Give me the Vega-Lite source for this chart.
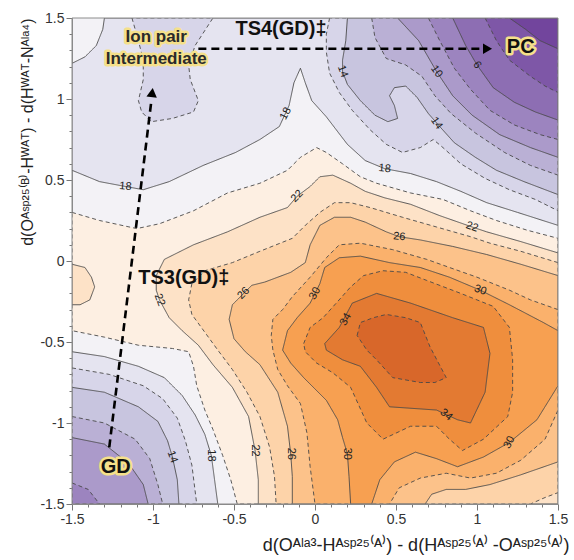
{
"$schema":"https://vega.github.io/schema/vega-lite/v6.json",
"width":486,"height":486,
"autosize":{"type":"none"},
"padding":{"left":72,"top":18,"right":16,"bottom":56},
"background":"#ffffff",
"config":{"view":{"stroke":null,"fill":"#f3f2f6"},"font":"Liberation Sans"},
"datasets":{
"regions":[
{"p":1,"lev":20,"band":"20-22"},{"p":2,"lev":22,"band":"22-24"},{"p":3,"lev":22,"band":"22-24"},{"p":4,"lev":24,"band":"24-26"},{"p":5,"lev":26,"band":"26-28"},{"p":6,"lev":28,"band":"28-30"},{"p":7,"lev":30,"band":"30-32"},{"p":8,"lev":32,"band":"32-34"},{"p":9,"lev":34,"band":"34-36"},{"p":10,"lev":36,"band":">36"},
{"p":11,"lev":18,"band":"16-18"},{"p":12,"lev":18,"band":"16-18"},{"p":13,"lev":16,"band":"14-16"},{"p":14,"lev":16,"band":"14-16"},{"p":15,"lev":16,"band":"14-16"},{"p":16,"lev":14,"band":"12-14"},{"p":17,"lev":14,"band":"12-14"},{"p":18,"lev":12,"band":"10-12"},{"p":19,"lev":12,"band":"10-12"},{"p":20,"lev":10,"band":"8-10"},{"p":21,"lev":10,"band":"8-10"},{"p":22,"lev":8,"band":"6-8"},{"p":23,"lev":8,"band":"6-8"},{"p":24,"lev":6,"band":"4-6"},{"p":25,"lev":4,"band":"2-4"},{"p":26,"lev":2,"band":"<2"}
],
"contours":[
{"p":1,"x":-1.5,"y":0.30},{"p":1,"x":-1.33,"y":0.25},{"p":1,"x":-1.10,"y":0.20},{"p":1,"x":-0.96,"y":0.23},{"p":1,"x":-0.75,"y":0.31},{"p":1,"x":-0.54,"y":0.42},{"p":1,"x":-0.34,"y":0.48},{"p":1,"x":-0.17,"y":0.56},{"p":1,"x":-0.09,"y":0.64},{"p":1,"x":0.01,"y":0.70},{"p":1,"x":0.07,"y":0.67},{"p":1,"x":0.17,"y":0.60},{"p":1,"x":0.28,"y":0.52},{"p":1,"x":0.38,"y":0.48},{"p":1,"x":0.59,"y":0.42},{"p":1,"x":0.79,"y":0.38},{"p":1,"x":0.96,"y":0.31},{"p":1,"x":1.12,"y":0.25},{"p":1,"x":1.31,"y":0.19},{"p":1,"x":1.5,"y":0.14},{"p":1,"x":1.5,"y":-1.5},{"p":1,"x":-0.48,"y":-1.5},{"p":1,"x":-0.52,"y":-1.35},{"p":1,"x":-0.57,"y":-1.20},{"p":1,"x":-0.63,"y":-1.04},{"p":1,"x":-0.68,"y":-0.92},{"p":1,"x":-0.73,"y":-0.77},{"p":1,"x":-0.75,"y":-0.65},{"p":1,"x":-0.78,"y":-0.56},{"p":1,"x":-0.88,"y":-0.54},{"p":1,"x":-1.09,"y":-0.52},{"p":1,"x":-1.30,"y":-0.47},{"p":1,"x":-1.5,"y":-0.43},
{"p":2,"x":1.5,"y":0.05},{"p":2,"x":1.27,"y":0.12},{"p":2,"x":1.06,"y":0.18},{"p":2,"x":0.97,"y":0.21},{"p":2,"x":0.77,"y":0.28},{"p":2,"x":0.59,"y":0.35},{"p":2,"x":0.43,"y":0.39},{"p":2,"x":0.31,"y":0.43},{"p":2,"x":0.22,"y":0.48},{"p":2,"x":0.11,"y":0.53},{"p":2,"x":0.03,"y":0.52},{"p":2,"x":-0.03,"y":0.46},{"p":2,"x":-0.11,"y":0.40},{"p":2,"x":-0.17,"y":0.33},{"p":2,"x":-0.34,"y":0.27},{"p":2,"x":-0.54,"y":0.18},{"p":2,"x":-0.75,"y":0.10},{"p":2,"x":-0.93,"y":0.01},{"p":2,"x":-0.98,"y":-0.09},{"p":2,"x":-0.98,"y":-0.18},{"p":2,"x":-0.96,"y":-0.24},{"p":2,"x":-0.90,"y":-0.35},{"p":2,"x":-0.82,"y":-0.43},{"p":2,"x":-0.72,"y":-0.52},{"p":2,"x":-0.63,"y":-0.64},{"p":2,"x":-0.51,"y":-0.78},{"p":2,"x":-0.41,"y":-0.96},{"p":2,"x":-0.37,"y":-1.17},{"p":2,"x":-0.35,"y":-1.35},{"p":2,"x":-0.35,"y":-1.5},{"p":2,"x":1.5,"y":-1.5},
{"p":3,"x":-1.5,"y":-0.02},{"p":3,"x":-1.42,"y":-0.04},{"p":3,"x":-1.38,"y":-0.10},{"p":3,"x":-1.36,"y":-0.16},{"p":3,"x":-1.39,"y":-0.24},{"p":3,"x":-1.45,"y":-0.27},{"p":3,"x":-1.5,"y":-0.27},
{"p":4,"x":1.5,"y":-0.01},{"p":4,"x":1.27,"y":0.06},{"p":4,"x":1.08,"y":0.11},{"p":4,"x":0.96,"y":0.15},{"p":4,"x":0.75,"y":0.21},{"p":4,"x":0.54,"y":0.27},{"p":4,"x":0.34,"y":0.33},{"p":4,"x":0.22,"y":0.36},{"p":4,"x":0.12,"y":0.36},{"p":4,"x":0.03,"y":0.30},{"p":4,"x":-0.06,"y":0.22},{"p":4,"x":-0.14,"y":0.14},{"p":4,"x":-0.34,"y":0.06},{"p":4,"x":-0.51,"y":-0.01},{"p":4,"x":-0.68,"y":-0.06},{"p":4,"x":-0.76,"y":-0.14},{"p":4,"x":-0.78,"y":-0.24},{"p":4,"x":-0.76,"y":-0.33},{"p":4,"x":-0.68,"y":-0.44},{"p":4,"x":-0.60,"y":-0.55},{"p":4,"x":-0.51,"y":-0.67},{"p":4,"x":-0.42,"y":-0.81},{"p":4,"x":-0.34,"y":-0.96},{"p":4,"x":-0.28,"y":-1.15},{"p":4,"x":-0.25,"y":-1.33},{"p":4,"x":-0.24,"y":-1.5},{"p":4,"x":1.33,"y":-1.5},{"p":4,"x":1.42,"y":-1.46},{"p":4,"x":1.5,"y":-1.43},
{"p":5,"x":1.5,"y":-0.09},{"p":5,"x":1.27,"y":-0.02},{"p":5,"x":1.06,"y":0.04},{"p":5,"x":0.85,"y":0.09},{"p":5,"x":0.65,"y":0.13},{"p":5,"x":0.52,"y":0.15},{"p":5,"x":0.44,"y":0.18},{"p":5,"x":0.31,"y":0.24},{"p":5,"x":0.22,"y":0.27},{"p":5,"x":0.12,"y":0.27},{"p":5,"x":0.03,"y":0.22},{"p":5,"x":-0.03,"y":0.10},{"p":5,"x":-0.06,"y":-0.01},{"p":5,"x":-0.15,"y":-0.07},{"p":5,"x":-0.31,"y":-0.13},{"p":5,"x":-0.39,"y":-0.15},{"p":5,"x":-0.44,"y":-0.20},{"p":5,"x":-0.51,"y":-0.27},{"p":5,"x":-0.53,"y":-0.36},{"p":5,"x":-0.50,"y":-0.48},{"p":5,"x":-0.43,"y":-0.56},{"p":5,"x":-0.34,"y":-0.64},{"p":5,"x":-0.23,"y":-0.81},{"p":5,"x":-0.17,"y":-1.02},{"p":5,"x":-0.15,"y":-1.19},{"p":5,"x":-0.14,"y":-1.33},{"p":5,"x":-0.14,"y":-1.5},{"p":5,"x":0.68,"y":-1.5},{"p":5,"x":0.72,"y":-1.44},{"p":5,"x":0.81,"y":-1.41},{"p":5,"x":0.93,"y":-1.41},{"p":5,"x":1.08,"y":-1.38},{"p":5,"x":1.27,"y":-1.32},{"p":5,"x":1.5,"y":-1.24},
{"p":6,"x":1.5,"y":-0.30},{"p":6,"x":1.33,"y":-0.24},{"p":6,"x":1.20,"y":-0.18},{"p":6,"x":1.00,"y":-0.10},{"p":6,"x":0.83,"y":-0.04},{"p":6,"x":0.69,"y":0.01},{"p":6,"x":0.48,"y":0.07},{"p":6,"x":0.28,"y":0.11},{"p":6,"x":0.15,"y":0.10},{"p":6,"x":0.07,"y":0.02},{"p":6,"x":-0.03,"y":-0.10},{"p":6,"x":-0.14,"y":-0.22},{"p":6,"x":-0.20,"y":-0.30},{"p":6,"x":-0.26,"y":-0.36},{"p":6,"x":-0.27,"y":-0.46},{"p":6,"x":-0.26,"y":-0.55},{"p":6,"x":-0.23,"y":-0.67},{"p":6,"x":-0.17,"y":-0.77},{"p":6,"x":-0.09,"y":-0.88},{"p":6,"x":-0.05,"y":-1.06},{"p":6,"x":-0.03,"y":-1.27},{"p":6,"x":0.00,"y":-1.5},{"p":6,"x":0.46,"y":-1.5},{"p":6,"x":0.52,"y":-1.40},{"p":6,"x":0.65,"y":-1.34},{"p":6,"x":0.81,"y":-1.31},{"p":6,"x":0.96,"y":-1.34},{"p":6,"x":1.12,"y":-1.31},{"p":6,"x":1.27,"y":-1.23},{"p":6,"x":1.42,"y":-1.10},{"p":6,"x":1.5,"y":-0.92},
{"p":7,"x":1.5,"y":-0.43},{"p":7,"x":1.41,"y":-0.38},{"p":7,"x":1.20,"y":-0.27},{"p":7,"x":1.02,"y":-0.18},{"p":7,"x":0.83,"y":-0.10},{"p":7,"x":0.65,"y":-0.04},{"p":7,"x":0.46,"y":-0.01},{"p":7,"x":0.28,"y":0.03},{"p":7,"x":0.15,"y":0.02},{"p":7,"x":0.06,"y":-0.04},{"p":7,"x":0.03,"y":-0.14},{"p":7,"x":-0.03,"y":-0.26},{"p":7,"x":-0.11,"y":-0.35},{"p":7,"x":-0.17,"y":-0.43},{"p":7,"x":-0.20,"y":-0.55},{"p":7,"x":-0.15,"y":-0.63},{"p":7,"x":-0.07,"y":-0.72},{"p":7,"x":0.01,"y":-0.80},{"p":7,"x":0.07,"y":-0.86},{"p":7,"x":0.14,"y":-0.98},{"p":7,"x":0.17,"y":-1.09},{"p":7,"x":0.20,"y":-1.19},{"p":7,"x":0.21,"y":-1.33},{"p":7,"x":0.22,"y":-1.5},{"p":7,"x":0.35,"y":-1.5},{"p":7,"x":0.40,"y":-1.35},{"p":7,"x":0.49,"y":-1.24},{"p":7,"x":0.62,"y":-1.18},{"p":7,"x":0.75,"y":-1.22},{"p":7,"x":0.88,"y":-1.27},{"p":7,"x":1.04,"y":-1.21},{"p":7,"x":1.20,"y":-1.12},{"p":7,"x":1.37,"y":-0.98},{"p":7,"x":1.5,"y":-0.77},
{"p":8,"x":-0.07,"y":-0.51},{"p":8,"x":-0.03,"y":-0.41},{"p":8,"x":0.05,"y":-0.35},{"p":8,"x":0.14,"y":-0.25},{"p":8,"x":0.22,"y":-0.16},{"p":8,"x":0.30,"y":-0.09},{"p":8,"x":0.42,"y":-0.06},{"p":8,"x":0.56,"y":-0.07},{"p":8,"x":0.69,"y":-0.12},{"p":8,"x":0.90,"y":-0.20},{"p":8,"x":1.10,"y":-0.28},{"p":8,"x":1.20,"y":-0.41},{"p":8,"x":1.22,"y":-0.61},{"p":8,"x":1.22,"y":-0.81},{"p":8,"x":1.19,"y":-0.96},{"p":8,"x":1.04,"y":-1.10},{"p":8,"x":0.91,"y":-1.17},{"p":8,"x":0.83,"y":-1.10},{"p":8,"x":0.75,"y":-1.02},{"p":8,"x":0.59,"y":-1.02},{"p":8,"x":0.42,"y":-1.10},{"p":8,"x":0.32,"y":-1.00},{"p":8,"x":0.22,"y":-0.78},{"p":8,"x":0.11,"y":-0.69},{"p":8,"x":0.01,"y":-0.63},{"p":8,"x":-0.06,"y":-0.56},
{"p":9,"x":0.06,"y":-0.51},{"p":9,"x":0.15,"y":-0.41},{"p":9,"x":0.23,"y":-0.26},{"p":9,"x":0.38,"y":-0.20},{"p":9,"x":0.59,"y":-0.26},{"p":9,"x":0.85,"y":-0.35},{"p":9,"x":1.04,"y":-0.41},{"p":9,"x":1.08,"y":-0.57},{"p":9,"x":1.05,"y":-0.81},{"p":9,"x":0.96,"y":-1.00},{"p":9,"x":0.88,"y":-0.98},{"p":9,"x":0.75,"y":-0.92},{"p":9,"x":0.46,"y":-0.90},{"p":9,"x":0.38,"y":-0.78},{"p":9,"x":0.28,"y":-0.65},{"p":9,"x":0.17,"y":-0.61},{"p":9,"x":0.07,"y":-0.55},
{"p":10,"x":0.26,"y":-0.46},{"p":10,"x":0.28,"y":-0.38},{"p":10,"x":0.36,"y":-0.35},{"p":10,"x":0.44,"y":-0.33},{"p":10,"x":0.56,"y":-0.35},{"p":10,"x":0.65,"y":-0.38},{"p":10,"x":0.71,"y":-0.53},{"p":10,"x":0.81,"y":-0.72},{"p":10,"x":0.74,"y":-0.75},{"p":10,"x":0.65,"y":-0.75},{"p":10,"x":0.48,"y":-0.72},{"p":10,"x":0.38,"y":-0.61},{"p":10,"x":0.32,"y":-0.55},
{"p":11,"x":-1.5,"y":-0.56},{"p":11,"x":-1.30,"y":-0.59},{"p":11,"x":-1.09,"y":-0.65},{"p":11,"x":-0.93,"y":-0.72},{"p":11,"x":-0.82,"y":-0.83},{"p":11,"x":-0.74,"y":-0.95},{"p":11,"x":-0.68,"y":-1.07},{"p":11,"x":-0.64,"y":-1.20},{"p":11,"x":-0.62,"y":-1.35},{"p":11,"x":-0.60,"y":-1.5},{"p":11,"x":-1.5,"y":-1.5},
{"p":12,"x":-1.5,"y":1.22},{"p":12,"x":-1.5,"y":0.56},{"p":12,"x":-1.33,"y":0.49},{"p":12,"x":-1.17,"y":0.46},{"p":12,"x":-1.06,"y":0.44},{"p":12,"x":-0.90,"y":0.49},{"p":12,"x":-0.69,"y":0.59},{"p":12,"x":-0.49,"y":0.67},{"p":12,"x":-0.34,"y":0.75},{"p":12,"x":-0.22,"y":0.83},{"p":12,"x":-0.16,"y":0.96},{"p":12,"x":-0.13,"y":1.10},{"p":12,"x":-0.09,"y":1.19},{"p":12,"x":-0.06,"y":1.10},{"p":12,"x":-0.02,"y":0.99},{"p":12,"x":0.07,"y":0.89},{"p":12,"x":0.20,"y":0.72},{"p":12,"x":0.31,"y":0.62},{"p":12,"x":0.43,"y":0.57},{"p":12,"x":0.59,"y":0.54},{"p":12,"x":0.75,"y":0.49},{"p":12,"x":0.90,"y":0.43},{"p":12,"x":1.06,"y":0.36},{"p":12,"x":1.25,"y":0.30},{"p":12,"x":1.5,"y":0.22},{"p":12,"x":1.5,"y":1.5},{"p":12,"x":-1.30,"y":1.5},{"p":12,"x":-1.31,"y":1.43},{"p":12,"x":-1.35,"y":1.33},{"p":12,"x":-1.42,"y":1.26},
{"p":13,"x":-1.5,"y":-0.66},{"p":13,"x":-1.27,"y":-0.70},{"p":13,"x":-1.06,"y":-0.77},{"p":13,"x":-0.94,"y":-0.85},{"p":13,"x":-0.85,"y":-0.97},{"p":13,"x":-0.80,"y":-1.11},{"p":13,"x":-0.76,"y":-1.26},{"p":13,"x":-0.73,"y":-1.5},{"p":13,"x":-1.5,"y":-1.5},
{"p":14,"x":-1.13,"y":1.5},{"p":14,"x":-1.09,"y":1.36},{"p":14,"x":-1.06,"y":1.24},{"p":14,"x":-1.06,"y":1.12},{"p":14,"x":-1.09,"y":0.99},{"p":14,"x":-1.07,"y":0.92},{"p":14,"x":-1.01,"y":0.86},{"p":14,"x":-0.88,"y":0.88},{"p":14,"x":-0.75,"y":0.92},{"p":14,"x":-0.72,"y":0.99},{"p":14,"x":-0.77,"y":1.12},{"p":14,"x":-0.78,"y":1.21},{"p":14,"x":-0.74,"y":1.33},{"p":14,"x":-0.63,"y":1.5},
{"p":15,"x":0.09,"y":1.5},{"p":15,"x":0.07,"y":1.40},{"p":15,"x":0.07,"y":1.29},{"p":15,"x":0.09,"y":1.16},{"p":15,"x":0.15,"y":1.04},{"p":15,"x":0.23,"y":0.93},{"p":15,"x":0.34,"y":0.81},{"p":15,"x":0.44,"y":0.72},{"p":15,"x":0.54,"y":0.67},{"p":15,"x":0.65,"y":0.70},{"p":15,"x":0.73,"y":0.75},{"p":15,"x":0.79,"y":0.70},{"p":15,"x":0.90,"y":0.60},{"p":15,"x":1.05,"y":0.51},{"p":15,"x":1.20,"y":0.44},{"p":15,"x":1.36,"y":0.38},{"p":15,"x":1.5,"y":0.31},{"p":15,"x":1.5,"y":1.5},
{"p":16,"x":-1.5,"y":-0.78},{"p":16,"x":-1.30,"y":-0.81},{"p":16,"x":-1.09,"y":-0.90},{"p":16,"x":-0.97,"y":-0.99},{"p":16,"x":-0.91,"y":-1.11},{"p":16,"x":-0.88,"y":-1.21},{"p":16,"x":-0.85,"y":-1.35},{"p":16,"x":-0.84,"y":-1.5},{"p":16,"x":-1.5,"y":-1.5},
{"p":17,"x":0.20,"y":1.5},{"p":17,"x":0.19,"y":1.36},{"p":17,"x":0.17,"y":1.24},{"p":17,"x":0.17,"y":1.17},{"p":17,"x":0.20,"y":1.09},{"p":17,"x":0.28,"y":0.99},{"p":17,"x":0.37,"y":0.90},{"p":17,"x":0.45,"y":0.86},{"p":17,"x":0.51,"y":0.88},{"p":17,"x":0.49,"y":0.96},{"p":17,"x":0.46,"y":1.02},{"p":17,"x":0.49,"y":1.07},{"p":17,"x":0.56,"y":1.08},{"p":17,"x":0.63,"y":1.01},{"p":17,"x":0.70,"y":0.91},{"p":17,"x":0.77,"y":0.83},{"p":17,"x":0.86,"y":0.73},{"p":17,"x":0.99,"y":0.64},{"p":17,"x":1.12,"y":0.56},{"p":17,"x":1.29,"y":0.49},{"p":17,"x":1.5,"y":0.41},{"p":17,"x":1.5,"y":1.5},
{"p":18,"x":-1.5,"y":-0.96},{"p":18,"x":-1.30,"y":-1.00},{"p":18,"x":-1.11,"y":-1.10},{"p":18,"x":-1.02,"y":-1.22},{"p":18,"x":-0.97,"y":-1.38},{"p":18,"x":-0.94,"y":-1.5},{"p":18,"x":-1.5,"y":-1.5},
{"p":19,"x":0.35,"y":1.5},{"p":19,"x":0.37,"y":1.38},{"p":19,"x":0.44,"y":1.25},{"p":19,"x":0.56,"y":1.21},{"p":19,"x":0.66,"y":1.14},{"p":19,"x":0.74,"y":1.02},{"p":19,"x":0.84,"y":0.91},{"p":19,"x":0.99,"y":0.79},{"p":19,"x":1.17,"y":0.67},{"p":19,"x":1.33,"y":0.59},{"p":19,"x":1.5,"y":0.53},{"p":19,"x":1.5,"y":1.5},
{"p":20,"x":-1.5,"y":-1.09},{"p":20,"x":-1.30,"y":-1.13},{"p":20,"x":-1.15,"y":-1.25},{"p":20,"x":-1.06,"y":-1.38},{"p":20,"x":-1.03,"y":-1.5},{"p":20,"x":-1.5,"y":-1.5},
{"p":21,"x":0.51,"y":1.5},{"p":21,"x":0.64,"y":1.36},{"p":21,"x":0.75,"y":1.17},{"p":21,"x":0.85,"y":1.02},{"p":21,"x":0.97,"y":0.90},{"p":21,"x":1.14,"y":0.78},{"p":21,"x":1.33,"y":0.70},{"p":21,"x":1.5,"y":0.64},{"p":21,"x":1.5,"y":1.5},
{"p":22,"x":-1.5,"y":-1.37},{"p":22,"x":-1.40,"y":-1.41},{"p":22,"x":-1.33,"y":-1.5},{"p":22,"x":-1.5,"y":-1.5},
{"p":23,"x":0.70,"y":1.5},{"p":23,"x":0.77,"y":1.36},{"p":23,"x":0.86,"y":1.19},{"p":23,"x":0.96,"y":1.06},{"p":23,"x":1.08,"y":0.93},{"p":23,"x":1.23,"y":0.84},{"p":23,"x":1.39,"y":0.78},{"p":23,"x":1.5,"y":0.75},{"p":23,"x":1.5,"y":1.5},
{"p":24,"x":0.85,"y":1.5},{"p":24,"x":0.93,"y":1.33},{"p":24,"x":1.00,"y":1.21},{"p":24,"x":1.10,"y":1.07},{"p":24,"x":1.23,"y":0.98},{"p":24,"x":1.36,"y":0.92},{"p":24,"x":1.5,"y":0.87},{"p":24,"x":1.5,"y":1.5},
{"p":25,"x":1.05,"y":1.5},{"p":25,"x":1.12,"y":1.36},{"p":25,"x":1.20,"y":1.24},{"p":25,"x":1.33,"y":1.14},{"p":25,"x":1.42,"y":1.08},{"p":25,"x":1.5,"y":1.04},{"p":25,"x":1.5,"y":1.5},
{"p":26,"x":1.20,"y":1.5},{"p":26,"x":1.30,"y":1.43},{"p":26,"x":1.39,"y":1.36},{"p":26,"x":1.5,"y":1.31},{"p":26,"x":1.5,"y":1.5}
],
"arrows":[{"a":"A","x":-1.27,"y":-1.15},{"a":"A","x":-1.01,"y":0.99},{"a":"B","x":-0.72,"y":1.31},{"a":"B","x":1.02,"y":1.31}],
"headA":[{"x":-1.005,"y":1.04}],
"headB":[{"x":1.065,"y":1.31}],
"lab90":[{"x":0.20,"y":-1.19,"t":"30"},{"x":-0.64,"y":-1.20,"t":"18"},{"x":-0.37,"y":-1.17,"t":"22"},{"x":-0.15,"y":-1.19,"t":"26"}],
"lab70":[{"x":0.17,"y":1.17,"t":"14"},{"x":-0.96,"y":-0.24,"t":"22"},{"x":-0.88,"y":-1.21,"t":"14"}],
"lab55":[{"x":0.75,"y":1.17,"t":"10"},{"x":1.00,"y":1.21,"t":"6"},{"x":0.75,"y":0.85,"t":"14"}],
"lab40":[{"x":0.81,"y":-0.95,"t":"34"}],
"lab20":[{"x":0.97,"y":0.21,"t":"22"},{"x":1.02,"y":-0.18,"t":"30"}],
"lab5":[{"x":-1.17,"y":0.46,"t":"18"},{"x":0.43,"y":0.57,"t":"18"},{"x":0.52,"y":0.15,"t":"26"}],
"labm45":[{"x":-0.11,"y":0.40,"t":"22"},{"x":-0.44,"y":-0.20,"t":"26"}],
"labm60":[{"x":-0.18,"y":0.91,"t":"18"},{"x":0.19,"y":-0.36,"t":"34"},{"x":0.00,"y":-0.20,"t":"30"},{"x":1.20,"y":-1.12,"t":"30"}],
"states":[{"x":-0.98,"y":1.38,"t":"Ion pair"},{"x":-0.98,"y":1.245,"t":"Intermediate"}],
"statesBig":[{"x":1.27,"y":1.32,"t":"PC"},{"x":-1.23,"y":-1.27,"t":"GD"}],
"ts":[{"x":-0.21,"y":1.43,"t":"TS4(GD)‡"},{"x":-0.81,"y":-0.105,"t":"TS3(GD)‡"}],
"frame":[{"x":-1.5,"y":-1.5,"x2":1.5,"y2":1.5}]
},
"encoding":{
"x":{"field":"x","type":"quantitative","scale":{"domain":[-1.5,1.5],"nice":false,"zero":false},
 "axis":{"title":"d(Oᴬˡᵃ³-Hᴬˢᵖ²⁵⁽ᴬ⁾) - d(Hᴬˢᵖ²⁵⁽ᴬ⁾ -Oᴬˢᵖ²⁵⁽ᴬ⁾)","values":[-1.5,-1.4,-1.3,-1.2,-1.1,-1,-0.9,-0.8,-0.7,-0.6,-0.5,-0.4,-0.3,-0.2,-0.1,0,0.1,0.2,0.3,0.4,0.5,0.6,0.7,0.8,0.9,1,1.1,1.2,1.3,1.4,1.5],
 "labelExpr":"datum.value % 0.5 === 0 ? toString(datum.value) : ''","tickSize":{"condition":{"test":"datum.value % 0.5 === 0","value":6},"value":3},
 "tickColor":"#777","domainColor":"#888","labelFontSize":14,"labelColor":"#333","labelPadding":2,"labelFlush":false,"labelOverlap":false,"grid":false,
 "titleFontSize":18,"titleFontWeight":"normal","titleColor":"#222","titleX":497,"titleAlign":"right","titlePadding":10}},
"y":{"field":"y","type":"quantitative","scale":{"domain":[-1.5,1.5],"nice":false,"zero":false},
 "axis":{"title":"d(Oᴬˢᵖ²⁵⁽ᴮ⁾-Hᵂᴬᵀ) - d(Hᵂᴬᵀ-Nᴬˡᵃ⁴)","values":[-1.5,-1.4,-1.3,-1.2,-1.1,-1,-0.9,-0.8,-0.7,-0.6,-0.5,-0.4,-0.3,-0.2,-0.1,0,0.1,0.2,0.3,0.4,0.5,0.6,0.7,0.8,0.9,1,1.1,1.2,1.3,1.4,1.5],
 "labelExpr":"datum.value % 0.5 === 0 ? toString(datum.value) : ''","tickSize":{"condition":{"test":"datum.value % 0.5 === 0","value":6},"value":3},
 "tickColor":"#777","domainColor":"#888","labelFontSize":14,"labelColor":"#333","labelPadding":2,"labelFlush":false,"labelOverlap":false,"grid":false,
 "titleFontSize":16,"titleFontWeight":"normal","titleColor":"#222","titleAnchor":"end","titlePadding":4}}
},
"layer":[
{"data":{"name":"contours"},
 "transform":[{"lookup":"p","from":{"data":{"name":"regions"},"key":"p","fields":["lev","band"]}},{"calculate":"datum.lev % 4 === 0 ? 'dashed' : 'solid'","as":"dash"}],
 "mark":{"type":"line","interpolate":"linear-closed","stroke":"#484848","strokeWidth":0.9,"clip":true},
 "encoding":{
  "fill":{"field":"band","type":"nominal","scale":{"domain":["<2","2-4","4-6","6-8","8-10","10-12","12-14","14-16","16-18","20-22","22-24","24-26","26-28","28-30","30-32","32-34","34-36",">36"],"range":["#72459d","#7e57a7","#8d6eb3","#9c84bf","#ab9aca","#bab0d5","#c8c5df","#d7d5e9","#e5e4f0","#fdefe2","#fde2c7","#fdd3a9","#fcc28a","#fab16c","#f7a051","#ef8e3d","#e37a32","#d8672a"]},"legend":null},
  "strokeDash":{"field":"dash","type":"nominal","scale":{"domain":["solid","dashed"],"range":[[1,0],[4,3]]},"legend":null},
  "detail":{"field":"p","type":"nominal"},
  "order":{"value":null}}},
{"data":{"name":"lab90"},"mark":{"type":"text","angle":90,"fontSize":11,"fill":"#222"},"encoding":{"text":{"field":"t","type":"nominal"}}},
{"data":{"name":"lab70"},"mark":{"type":"text","angle":70,"fontSize":11,"fill":"#222"},"encoding":{"text":{"field":"t","type":"nominal"}}},
{"data":{"name":"lab55"},"mark":{"type":"text","angle":55,"fontSize":11,"fill":"#222"},"encoding":{"text":{"field":"t","type":"nominal"}}},
{"data":{"name":"lab40"},"mark":{"type":"text","angle":40,"fontSize":11,"fill":"#222"},"encoding":{"text":{"field":"t","type":"nominal"}}},
{"data":{"name":"lab20"},"mark":{"type":"text","angle":20,"fontSize":11,"fill":"#222"},"encoding":{"text":{"field":"t","type":"nominal"}}},
{"data":{"name":"lab5"},"mark":{"type":"text","angle":5,"fontSize":11,"fill":"#222"},"encoding":{"text":{"field":"t","type":"nominal"}}},
{"data":{"name":"labm45"},"mark":{"type":"text","angle":-45,"fontSize":11,"fill":"#222"},"encoding":{"text":{"field":"t","type":"nominal"}}},
{"data":{"name":"labm60"},"mark":{"type":"text","angle":-62,"fontSize":11,"fill":"#222"},"encoding":{"text":{"field":"t","type":"nominal"}}},
{"data":{"name":"arrows"},"mark":{"type":"line","stroke":"#000000","strokeWidth":2.6,"strokeDash":[8,5]},"encoding":{"detail":{"field":"a","type":"nominal"},"order":{"value":null}}},
{"data":{"name":"headA"},"mark":{"type":"point","shape":"triangle-up","filled":true,"fill":"#000000","opacity":1,"size":110,"angle":7}},
{"data":{"name":"headB"},"mark":{"type":"point","shape":"triangle-up","filled":true,"fill":"#000000","opacity":1,"size":110,"angle":90}},
{"data":{"name":"states"},"mark":{"type":"text","fontSize":17,"fontWeight":"bold","fill":"#f5e08a","stroke":"#f5e08a","strokeWidth":5,"strokeJoin":"round"},"encoding":{"text":{"field":"t","type":"nominal"}}},
{"data":{"name":"states"},"mark":{"type":"text","fontSize":17,"fontWeight":"bold","fill":"#2a2a2a"},"encoding":{"text":{"field":"t","type":"nominal"}}},
{"data":{"name":"statesBig"},"mark":{"type":"text","fontSize":20,"fontWeight":"bold","fill":"#f5e08a","stroke":"#f5e08a","strokeWidth":5,"strokeJoin":"round"},"encoding":{"text":{"field":"t","type":"nominal"}}},
{"data":{"name":"statesBig"},"mark":{"type":"text","fontSize":20,"fontWeight":"bold","fill":"#111111"},"encoding":{"text":{"field":"t","type":"nominal"}}},
{"data":{"name":"ts"},"mark":{"type":"text","fontSize":20,"fontWeight":"bold","fill":"#111111"},"encoding":{"text":{"field":"t","type":"nominal"}}},
{"data":{"name":"frame"},"mark":{"type":"rect","fillOpacity":0,"stroke":"#8c8c8c","strokeWidth":1},"encoding":{"x2":{"field":"x2"},"y2":{"field":"y2"}}}
]
}
